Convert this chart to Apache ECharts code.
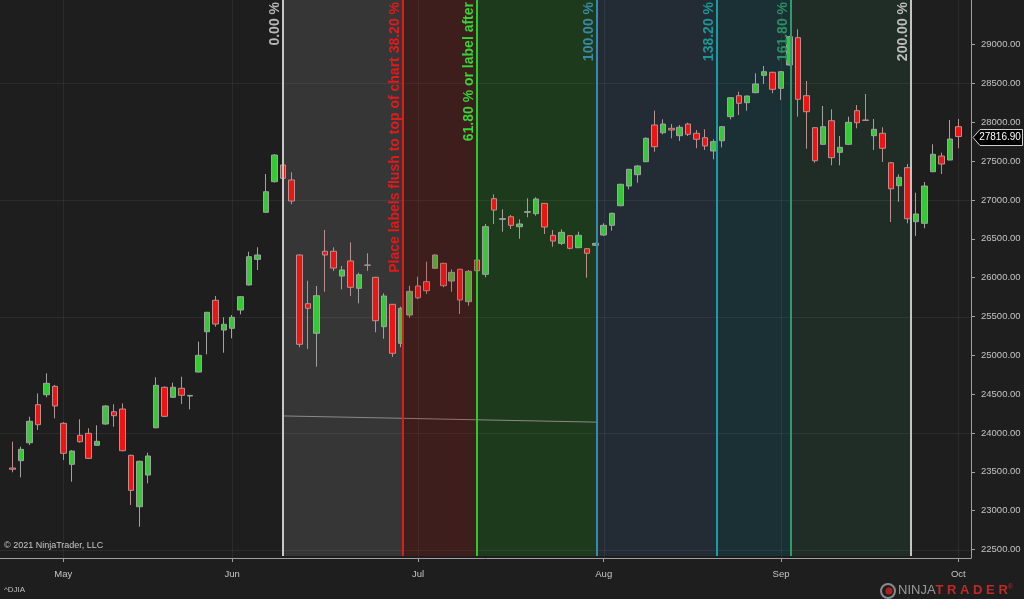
<!DOCTYPE html>
<html><head><meta charset="utf-8">
<script src="https://cdn.jsdelivr.net/npm/echarts@6/dist/echarts.min.js"></script>
<style>html,body{margin:0;padding:0;background:#1e1e1e;}#c{width:1024px;height:599px;}</style>
</head><body><div id="c"></div>
<script>
// ---- data (daily candles, ^DJIA, late Apr - Oct 1 2021) ----
const opens = [23550,23644,23875,24365,24493,24601,24125,23597,23971,23996,23842,24116,24274,24309,23713,23051,23459,24068,24589,24460,24576,24476,24785,25304,25709,25326,25348,25584,25906,26236,26842,27236,27451,27258,26292,25665,25284,26340,26340,26021,26215,25863,26163,26005,25369,25657,25155,25519,25893,25948,26121,26185,25957,26108,25691,26227,26043,27017,26751,26785,26656,26842,26824,26957,26545,26442,26540,26386,26373,26417,26549,26674,26927,27180,27326,27493,27966,27866,27923,27828,27978,27859,27802,27631,27763,28073,28343,28253,28382,28605,28644,28438,28738,29090,28343,27931,27717,28021,27614,27717,28150,28030,27828,27859,27480,27184,27416,26721,26700,27364,27566,27515,27944];
const closes = [23533,23790,24151,24107,24640,24348,23739,23768,23888,23674,23893,24348,24223,23772,23262,23636,23704,24614,24215,24589,24486,24484,25000,25554,25403,25400,25490,25755,26270,26292,27107,27579,27279,26987,25142,25606,25768,26292,26124,26099,25876,26038,26160,25446,25764,25026,25606,25824,25742,25832,26292,25897,26069,25713,26082,26090,26657,26871,26760,26674,26691,26850,27013,26652,26472,26584,26378,26545,26314,26442,26674,26829,27202,27395,27438,27794,27686,27978,27901,27936,27846,27782,27695,27751,27944,28317,28245,28339,28494,28652,28425,28652,29103,28296,28137,27506,27944,27545,27678,28000,27995,28025,27910,27666,27145,27292,26759,26820,27180,27588,27463,27785,27816.9];
const lows = [23494,23430,23846,24039,24460,24189,23652,23373,23875,23665,23835,24105,24081,23765,23073,22794,23352,24060,24205,24455,24374,24305,24780,25013,25369,25034,25219,25528,25900,26099,26835,27225,27270,26945,25104,25082,24854,25819,26086,25850,25764,25670,26090,25297,25214,24979,25104,25485,25722,25790,26115,25876,25819,25532,25639,26060,26005,26691,26592,26627,26502,26777,26798,26562,26399,26421,26365,26380,26000,26410,26536,26605,26920,27138,27223,27488,27622,27846,27794,27760,27824,27666,27644,27524,27678,28039,28094,28150,28375,28494,28374,28287,28730,28073,27660,27480,27710,27447,27447,27710,27923,28020,27644,27489,26717,26978,26700,26537,26636,27360,27335,27510,27666];
const highs = [23888,23824,24210,24511,24769,24620,24140,23780,24177,24061,24099,24360,24370,24382,23720,23645,23746,24717,24600,24648,24725,24490,25176,25560,25764,25490,25519,25760,26334,26391,27335,27590,27480,27357,26300,25961,25893,26614,26391,26150,26455,26064,26314,26010,25799,25660,25626,25897,26012,26206,26300,26190,26108,26115,26099,26280,26691,27073,26880,26807,26751,27022,27035,26960,26614,26623,26545,26592,26380,26450,26700,26837,27210,27400,27451,27807,28150,28039,27978,27966,27995,27901,27910,27782,27953,28320,28394,28345,28631,28725,28652,28660,29114,29198,28532,27935,28210,28168,27824,28073,28223,28365,28043,27936,27490,27331,27463,27094,27232,27717,27609,28030,28043];
const monthTicks = [[6,'May'],[26,'Jun'],[48,'Jul'],[70,'Aug'],[91,'Sep'],[112,'Oct']];
const yTickValues = [22500,23000,23500,24000,24500,25000,25500,26000,26500,27000,27500,28000,28500,29000];
const yGridValues = [22500,24000,25500,27000,28500];
const lastPrice = 27816.90;
// Fibonacci time extension tool
const fibStartIdx = 32.0, fibEndIdx = 69.2;
const fibAnchorValues = [24220, 24140];
const fibLevels = [0, 38.2, 61.8, 100, 138.2, 161.8, 200];
const fibTexts = ['0.00 %','Place labels flush to top of chart 38.20 %','61.80 % or label after','100.00 %','138.20 %','161.80 %','200.00 %'];
const fibLineColors = ['#c8c8c8','#dd1c1c','#2ec82e','#3b89a8','#1c9ba0','#2f9b6c','#c4c4c4'];
const fibTextColors = ['#b8b8b8','#e41a1a','#33d633','#3a88a6','#1a9898','#2c8f62','#bdbdbd'];
const fibFills = ['#363636','rgba(190,25,25,0.2)','#1d3a1c','#232c35','#1b3034','#202d27'];

// ---- build ----
const N = opens.length, PAD = 1;
const categories = [];
for (let i = 0; i < N + 2 * PAD; i++) categories.push(String(i));
const candleRows = opens.map((o, i) => [i + PAD, o, closes[i], lows[i], highs[i]]);
const tickSet = new Map(monthTicks.map(t => [t[0] + PAD, t[1]]));
const fibX = lv => fibStartIdx + (fibEndIdx - fibStartIdx) * lv / 100;
const yMin = 22391, yMax = 29575;
const FONT = '"Liberation Sans", Arial, sans-serif';

function renderBack(params, api) {
  const cs = params.coordSys;
  const ch = [];
  for (let k = 0; k < fibLevels.length - 1; k++) {
    if (k === 1) continue;
    const x0 = api.coord([fibX(fibLevels[k]), 25000])[0];
    const x1 = api.coord([fibX(fibLevels[k + 1]), 25000])[0];
    ch.push({type:'rect', shape:{x:x0, y:cs.y, width:x1 - x0, height:cs.height - 2}, style:{fill:fibFills[k]}});
  }
  yGridValues.forEach(v => {
    const y = Math.round(api.coord([0, v])[1]) + 0.5;
    ch.push({type:'line', shape:{x1:cs.x, y1:y, x2:cs.x + cs.width, y2:y}, style:{stroke:'rgba(255,255,255,0.06)', lineWidth:1}});
  });
  monthTicks.forEach(t => {
    const x = Math.round(api.coord([t[0], 25000])[0]) + 0.5;
    ch.push({type:'line', shape:{x1:x, y1:cs.y, x2:x, y2:cs.y + cs.height}, style:{stroke:'rgba(255,255,255,0.06)', lineWidth:1}});
  });
  const a = api.coord([fibStartIdx, fibAnchorValues[0]]);
  const b = api.coord([fibEndIdx, fibAnchorValues[1]]);
  ch.push({type:'line', shape:{x1:a[0], y1:a[1], x2:b[0], y2:b[1]}, style:{stroke:'#8a8a8a', lineWidth:1}});
  return {type:'group', children:ch};
}
function renderFront(params, api) {
  const cs = params.coordSys;
  const ch = [];
  const r0 = api.coord([fibX(fibLevels[1]), 25000])[0];
  const r1 = api.coord([fibX(fibLevels[2]), 25000])[0];
  ch.push({type:'rect', shape:{x:r0, y:cs.y, width:r1 - r0, height:cs.height - 2}, style:{fill:fibFills[1]}});
  fibLevels.forEach((lv, k) => {
    const x = Math.round(api.coord([fibX(lv), 25000])[0]);
    ch.push({type:'line', shape:{x1:x, y1:cs.y, x2:x, y2:cs.y + cs.height - 2}, style:{stroke:fibLineColors[k], lineWidth:2}});
    ch.push({type:'text', x:x - 1, y:cs.y + 2, rotation:Math.PI / 2,
      style:{text:fibTexts[k], x:0, y:0, align:'right', verticalAlign:'bottom', fill:fibTextColors[k],
        font:'bold 14px ' + FONT}});
  });
  // last price marker on the price axis
  const py = Math.round(api.coord([0, lastPrice])[1]) + 0.5;
  const ax = cs.x + cs.width + 2;
  ch.push({type:'polygon', shape:{points:[[ax, py], [ax + 7, py - 8], [1022.5, py - 8], [1022.5, py + 8], [ax + 7, py + 8]]},
    style:{fill:'#000000', stroke:'#d0d0d0', lineWidth:1}});
  ch.push({type:'text', x:1000, y:py, style:{text:lastPrice.toFixed(2), x:0, y:0, align:'center', verticalAlign:'middle',
    fill:'#ffffff', font:'10px ' + FONT}});
  return {type:'group', children:ch};
}

const chart = echarts.init(document.getElementById('c'), null, {renderer:'canvas'});
chart.setOption({
  animation:false,
  backgroundColor:'#1e1e1e',
  textStyle:{fontFamily:FONT},
  grid:{left:0, top:0, right:53, bottom:41},
  xAxis:[{
    type:'category', data:categories, boundaryGap:true,
    axisLine:{onZero:false, lineStyle:{color:'#a0a0a0', width:1}},
    axisTick:{show:true, alignWithLabel:true, length:4, interval:(i) => tickSet.has(i), lineStyle:{color:'#a0a0a0'}},
    axisLabel:{interval:(i) => tickSet.has(i), formatter:(v, i) => tickSet.get(i) || '', color:'#c4c4c4', fontSize:9.5, margin:11},
    splitLine:{show:false}
  },{
    type:'value', show:false, min:-PAD - 0.5, max:N - 1 + PAD + 0.5,
    axisLine:{onZero:false}
  }],
  yAxis:{
    type:'value', position:'right', min:yMin, max:yMax,
    axisLine:{show:true, onZero:false, lineStyle:{color:'#a0a0a0', width:1}},
    axisTick:{show:true, length:4, customValues:yTickValues, lineStyle:{color:'#a0a0a0'}},
    axisLabel:{customValues:yTickValues, formatter:(v) => Number(v).toFixed(2), color:'#c4c4c4', fontSize:9.5, margin:10},
    splitLine:{show:false}
  },
  series:[{
    type:'custom', name:'fibBack', xAxisIndex:1, yAxisIndex:0, z:1, data:[[0, 25000]], renderItem:renderBack, silent:true
  },{
    type:'candlestick', name:'^DJIA', xAxisIndex:0, yAxisIndex:0, z:3, barWidth:6,
    data:candleRows, encode:{x:0, y:[1, 2, 3, 4]},
    itemStyle:{color:'#36c936', color0:'#ee1414', borderColor:'#a2a2a2', borderColor0:'#b89090', borderColorDoji:'#cfcfcf', borderWidth:1}
  },{
    type:'custom', name:'fibFront', xAxisIndex:1, yAxisIndex:0, z:5, clip:false, data:[[0, 25000]], renderItem:renderFront, silent:true
  }],
  graphic:[
    {type:'text', left:4, top:541, style:{text:'\u00a9 2021 NinjaTrader, LLC', fill:'#c8c8c8', font:'9px ' + FONT}},
    {type:'text', left:4, top:586, style:{text:'^DJIA', fill:'#c0c0c0', font:'8px ' + FONT}},
    {type:'circle', shape:{cx:888, cy:591, r:7}, style:{fill:'none', stroke:'#8a8a8a', lineWidth:2}},
    {type:'circle', shape:{cx:889, cy:591, r:3.5}, style:{fill:'#b02020'}},
    {type:'text', left:898, top:584, style:{
      text:'{a|NINJA}{b|T R A D E R}{c|\u00ae}',
      rich:{a:{fill:'#9a9a9a', font:'13px ' + FONT},
            b:{fill:'#c0282a', font:'bold 13px ' + FONT},
            c:{fill:'#c0282a', font:'7px ' + FONT, verticalAlign:'top'}}}}
  ]
});
</script></body></html>
